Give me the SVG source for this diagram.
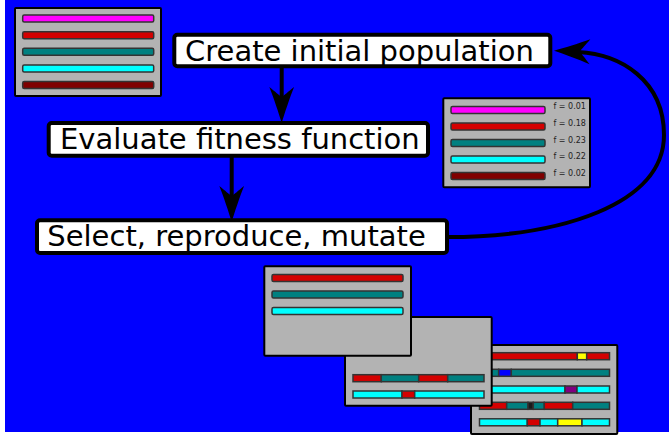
<svg xmlns="http://www.w3.org/2000/svg" xmlns:xlink="http://www.w3.org/1999/xlink" width="669" height="435" viewBox="0 0 669 435">
  <style>
    .panel { fill: #b3b3b3; stroke: #000; stroke-width: 2; }
    .bar { stroke: #333; stroke-width: 1.5; }
    .mag { fill: #ff00ff; }
    .red { fill: #d40000; }
    .teal { fill: #008080; }
    .cyan { fill: #00ffff; }
    .dred { fill: #800000; }
    .yel { fill: #ffff00; }
    .blu { fill: #0000ff; }
    .pur { fill: #800080; }
    .blk { fill: #1a1a1a; }
    .step { fill: #fff; stroke: #000; stroke-width: 4; }
    .label { font-family: "DejaVu Sans", sans-serif; font-size: 29px; fill: #000; }
    .fit { font-family: "DejaVu Sans", sans-serif; font-size: 8px; fill: #222; }
    .flow { fill: none; stroke: #000; stroke-width: 4; }
  </style>
  <defs>
    <!-- arrowhead pointing along +x, tip at the origin -->
    <path id="head" d="M 0,0 C -10,-3 -25,-8 -36,-12.4 C -31,-6 -28,-3 -26,0 C -28,3 -31,6 -36,12.4 C -25,8 -10,3 0,0 Z" fill="#000"/>
  </defs>

  <!-- backdrop -->
  <rect x="0" y="0" width="669" height="435" fill="#fff"/>
  <rect x="5" y="0" width="664" height="432" fill="#0000ff"/>

  <!-- initial population -->
  <g id="population">
    <rect class="panel" x="15" y="8" width="146" height="88" rx="1"/>
    <rect class="bar mag" x="22.7" y="15" width="131" height="7" rx="1.5"/>
    <rect class="bar red" x="22.7" y="31.7" width="131" height="7" rx="1.5"/>
    <rect class="bar teal" x="22.7" y="48.3" width="131" height="7" rx="1.5"/>
    <rect class="bar cyan" x="22.7" y="64.9" width="131" height="7" rx="1.5"/>
    <rect class="bar dred" x="22.7" y="81.5" width="131" height="7" rx="1.5"/>
  </g>

  <!-- evaluated population with fitness values -->
  <g id="fitness">
    <rect class="panel" x="443.3" y="98.3" width="146.7" height="89" rx="1"/>
    <rect class="bar mag" x="451" y="106.5" width="94" height="7" rx="1.5"/>
    <rect class="bar red" x="451" y="123" width="94" height="7" rx="1.5"/>
    <rect class="bar teal" x="451" y="139.5" width="94" height="7" rx="1.5"/>
    <rect class="bar cyan" x="451" y="156" width="94" height="7" rx="1.5"/>
    <rect class="bar dred" x="451" y="172.5" width="94" height="7" rx="1.5"/>
    <text class="fit" x="553.5" y="109.3">f = 0.01</text>
    <text class="fit" x="553.5" y="126">f = 0.18</text>
    <text class="fit" x="553.5" y="142.7">f = 0.23</text>
    <text class="fit" x="553.5" y="159.3">f = 0.22</text>
    <text class="fit" x="553.5" y="175.7">f = 0.02</text>
  </g>

  <!-- mutated offspring -->
  <g id="mutated">
    <rect class="panel" x="471" y="345" width="146.3" height="89" rx="1"/>
    <rect class="bar red" x="479.5" y="352.7" width="97.8" height="7"/>
    <rect class="bar yel" x="577.3" y="352.7" width="9.4" height="7"/>
    <rect class="bar red" x="586.7" y="352.7" width="22.8" height="7"/>
    <rect class="bar teal" x="479.5" y="369.3" width="19.2" height="7"/>
    <rect class="bar blu" x="498.7" y="369.3" width="12.6" height="7"/>
    <rect class="bar teal" x="511.3" y="369.3" width="98.2" height="7"/>
    <rect class="bar cyan" x="479.5" y="386" width="85.5" height="7"/>
    <rect class="bar pur" x="565" y="386" width="12" height="7"/>
    <rect class="bar cyan" x="577" y="386" width="32.5" height="7"/>
    <rect class="bar red" x="479.5" y="402.3" width="27.2" height="7"/>
    <rect class="bar teal" x="506.7" y="402.3" width="21.3" height="7"/>
    <rect class="bar blk" x="528" y="402.3" width="5.3" height="7"/>
    <rect class="bar teal" x="533.3" y="402.3" width="11" height="7"/>
    <rect class="bar red" x="544.3" y="402.3" width="28.4" height="7"/>
    <rect class="bar teal" x="572.7" y="402.3" width="36.8" height="7"/>
    <rect class="bar cyan" x="479.5" y="418.8" width="47.8" height="7"/>
    <rect class="bar red" x="527.3" y="418.8" width="12.7" height="7"/>
    <rect class="bar cyan" x="540" y="418.8" width="17.7" height="7"/>
    <rect class="bar yel" x="557.7" y="418.8" width="24.3" height="7"/>
    <rect class="bar cyan" x="582" y="418.8" width="27.5" height="7"/>
  </g>

  <!-- recombined offspring -->
  <g id="offspring">
    <rect class="panel" x="345" y="317" width="146.7" height="88.7" rx="1"/>
    <rect class="bar red" x="353" y="374.7" width="28.3" height="7"/>
    <rect class="bar teal" x="381.3" y="374.7" width="37.4" height="7"/>
    <rect class="bar red" x="418.7" y="374.7" width="29" height="7"/>
    <rect class="bar teal" x="447.7" y="374.7" width="36.3" height="7"/>
    <rect class="bar cyan" x="353" y="391" width="49" height="7"/>
    <rect class="bar red" x="402" y="391" width="12.7" height="7"/>
    <rect class="bar cyan" x="414.7" y="391" width="69.3" height="7"/>
  </g>

  <!-- selected parents -->
  <g id="parents">
    <rect class="panel" x="264.3" y="266.3" width="146.7" height="89.4" rx="1"/>
    <rect class="bar red" x="272" y="274.5" width="131" height="7" rx="1.5"/>
    <rect class="bar teal" x="272" y="291" width="131" height="7" rx="1.5"/>
    <rect class="bar cyan" x="272" y="307.5" width="131" height="7" rx="1.5"/>
  </g>

  <!-- connectors -->
  <g id="connectors">
    <line class="flow" x1="281.7" y1="66" x2="281.7" y2="100"/>
    <use xlink:href="#head" transform="translate(281.7,123) rotate(90)"/>
    <line class="flow" x1="231.7" y1="155" x2="231.7" y2="198"/>
    <use xlink:href="#head" transform="translate(231.7,222) rotate(90)"/>
    <path class="flow" stroke-width="4.5" d="M 447,237 C 560,237 664,205 664,135 C 664,80 620,54 578,52"/>
    <use xlink:href="#head" transform="translate(554,50.7) rotate(181.7)"/>
  </g>

  <!-- steps -->
  <g id="create">
    <rect class="step" x="174.3" y="34.7" width="376" height="31.6" rx="3"/>
    <text class="label" x="185" y="61">Create initial population</text>
  </g>
  <g id="evaluate">
    <rect class="step" x="48.7" y="123" width="379.3" height="32.7" rx="3"/>
    <text class="label" x="60" y="149.3">Evaluate fitness function</text>
  </g>
  <g id="select">
    <rect class="step" x="37" y="220.3" width="410" height="32.7" rx="3"/>
    <text class="label" x="47.3" y="246">Select, reproduce, mutate</text>
  </g>
</svg>
